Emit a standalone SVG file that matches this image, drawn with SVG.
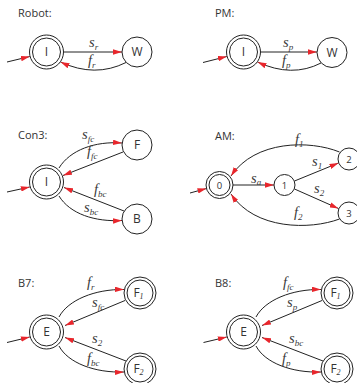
<svg xmlns="http://www.w3.org/2000/svg" width="357" height="383" viewBox="0 0 357 383">
  <defs>
    <marker id="arr" viewBox="0 0 10 6" refX="10" refY="3" markerWidth="9" markerHeight="5.4" markerUnits="userSpaceOnUse" orient="auto">
      <path d="M0,0 L10,3 L0,6 z" fill="#e8262c"/>
    </marker>
  </defs>
  <style>
    .title { font-family: "Open Sans", "Noto Sans", "Liberation Sans", sans-serif; font-size: 11px; fill: #333; }
    .node circle { fill: #fff; stroke: #222; stroke-width: 1; }
    .nl { font-family: "Open Sans", "Noto Sans", "Liberation Sans", sans-serif; font-size: 12px; fill: #333; text-anchor: middle; }
    .nn { font-family: "Open Sans", "Noto Sans", "Liberation Sans", sans-serif; font-size: 9.5px; fill: #333; text-anchor: middle; }
    .sub { font-family: "Liberation Serif", serif; font-style: italic; font-size: 8px; }
    .edges path { fill: none; stroke: #222; stroke-width: 1; marker-end: url(#arr); }
    .lbl { font-family: "Liberation Serif", "DejaVu Serif", serif; font-style: italic; font-size: 14.5px; fill: #3a3a3a; }
    .lbl tspan { font-size: 9px; }
  </style>

  <!-- Robot -->
  <text class="title" x="18" y="17">Robot:</text>
  <g class="node" id="robot-I"><circle cx="46.5" cy="52" r="17"/><circle cx="46.5" cy="52" r="14"/><text class="nl" x="46.5" y="56.3">I</text></g>
  <g class="node" id="robot-W"><circle cx="137" cy="52" r="15"/><text class="nl" x="137" y="56.3">W</text></g>
  <g class="edges" id="robot-edges">
    <path d="M7,62 L29.8,56.5"/>
    <path d="M63.5,52 L122,52"/>
    <path d="M126,62.5 Q95,78 60.5,62"/>
  </g>
  <text class="lbl" x="89" y="47">s<tspan dy="2.5">r</tspan></text>
  <text class="lbl" x="88" y="65">f<tspan dy="2.5">r</tspan></text>

  <!-- PM -->
  <text class="title" x="215" y="17">PM:</text>
  <g class="node" id="pm-I"><circle cx="243.5" cy="52" r="17"/><circle cx="243.5" cy="52" r="14"/><text class="nl" x="243.5" y="56.3">I</text></g>
  <g class="node" id="pm-W"><circle cx="332" cy="52.5" r="15"/><text class="nl" x="332" y="56.8">W</text></g>
  <g class="edges" id="pm-edges">
    <path d="M203,62.5 L226.8,56.5"/>
    <path d="M260.5,52 L317,52"/>
    <path d="M321,63 Q292,78 257.5,62"/>
  </g>
  <text class="lbl" x="283" y="47">s<tspan dy="2.5">p</tspan></text>
  <text class="lbl" x="282" y="65">f<tspan dy="2.5">p</tspan></text>

  <!-- Con3 -->
  <text class="title" x="18" y="139">Con3:</text>
  <g class="node" id="con3-I"><circle cx="46.5" cy="182" r="17"/><circle cx="46.5" cy="182" r="14"/><text class="nl" x="46.5" y="186.3">I</text></g>
  <g class="node" id="con3-F"><circle cx="137" cy="145" r="15"/><text class="nl" x="137" y="149.3">F</text></g>
  <g class="node" id="con3-B"><circle cx="137" cy="219" r="15"/><text class="nl" x="137" y="223.3">B</text></g>
  <g class="edges" id="con3-edges">
    <path d="M7,192 L29.8,187"/>
    <path d="M59,168 C70,150 95,141 122,143"/>
    <path d="M123,152 L63,175.5"/>
    <path d="M124,211 L64,187.5"/>
    <path d="M59,196 C70,214 95,222 122,220.5"/>
  </g>
  <text class="lbl" x="82" y="139">s<tspan dy="2.5">fc</tspan></text>
  <text class="lbl" x="87" y="156">f<tspan dy="2.5">fc</tspan></text>
  <text class="lbl" x="94" y="194">f<tspan dy="2.5">bc</tspan></text>
  <text class="lbl" x="84" y="212">s<tspan dy="2.5">bc</tspan></text>

  <!-- AM -->
  <text class="title" x="215" y="140">AM:</text>
  <g class="node" id="am-0"><circle cx="219.5" cy="185" r="13.5"/><circle cx="219.5" cy="185" r="10.5"/><text class="nn" x="219.5" y="188.5">0</text></g>
  <g class="node" id="am-1"><circle cx="284.5" cy="185" r="10.5"/><text class="nn" x="284.5" y="188.5">1</text></g>
  <g class="node" id="am-2"><circle cx="349" cy="159" r="11"/><text class="nn" x="349" y="162.5">2</text></g>
  <g class="node" id="am-3"><circle cx="349" cy="213" r="11"/><text class="nn" x="349" y="216.5">3</text></g>
  <g class="edges" id="am-edges">
    <path d="M190,193 L206.5,188.5"/>
    <path d="M233,185 L274,185"/>
    <path d="M294.5,181 L338.5,163"/>
    <path d="M294.5,189 L338.5,208.5"/>
    <path d="M339.5,152 C310,140 255,140 231,176"/>
    <path d="M339.5,219 C310,230 255,230 231,194"/>
  </g>
  <text class="lbl" x="251" y="182.5">s<tspan dy="2.5">a</tspan></text>
  <text class="lbl" x="295" y="144">f<tspan dy="2.5">1</tspan></text>
  <text class="lbl" x="312" y="166">s<tspan dy="2.5">1</tspan></text>
  <text class="lbl" x="314" y="193">s<tspan dy="2.5">2</tspan></text>
  <text class="lbl" x="294" y="217">f<tspan dy="2.5">2</tspan></text>

  <!-- B7 -->
  <text class="title" x="18" y="287">B7:</text>
  <g class="node" id="b7-E"><circle cx="46.5" cy="332" r="17"/><circle cx="46.5" cy="332" r="14"/><text class="nl" x="46.5" y="336.3">E</text></g>
  <g class="node" id="b7-F1"><circle cx="140" cy="293" r="16"/><circle cx="140" cy="293" r="13"/><text class="nl" x="138.5" y="297.3">F<tspan class="sub" dy="2">1</tspan></text></g>
  <g class="node" id="b7-F2"><circle cx="140" cy="369" r="16"/><circle cx="140" cy="369" r="13"/><text class="nl" x="138.5" y="373.3">F<tspan class="sub" dy="2">2</tspan></text></g>
  <g class="edges" id="b7-edges">
    <path d="M7,342.5 L29.8,337"/>
    <path d="M59,317 C68,300 95,289 124,289.5"/>
    <path d="M125,300.5 L65,325.5"/>
    <path d="M126,361 L65,337.5"/>
    <path d="M59,346 C68,363 95,373 124,372"/>
  </g>
  <text class="lbl" x="87" y="287">f<tspan dy="2.5">r</tspan></text>
  <text class="lbl" x="92" y="307">s<tspan dy="2.5">fc</tspan></text>
  <text class="lbl" x="92" y="343">s<tspan dy="2.5">2</tspan></text>
  <text class="lbl" x="87" y="363">f<tspan dy="2.5">bc</tspan></text>

  <!-- B8 -->
  <text class="title" x="215" y="287">B8:</text>
  <g class="node" id="b8-E"><circle cx="243.5" cy="332" r="17"/><circle cx="243.5" cy="332" r="14"/><text class="nl" x="243.5" y="336.3">E</text></g>
  <g class="node" id="b8-F1"><circle cx="337" cy="293" r="16"/><circle cx="337" cy="293" r="13"/><text class="nl" x="335.5" y="297.3">F<tspan class="sub" dy="2">1</tspan></text></g>
  <g class="node" id="b8-F2"><circle cx="337" cy="369" r="16"/><circle cx="337" cy="369" r="13"/><text class="nl" x="335.5" y="373.3">F<tspan class="sub" dy="2">2</tspan></text></g>
  <g class="edges" id="b8-edges">
    <path d="M203.5,342.5 L226.8,337"/>
    <path d="M256,317 C265,300 292,289 321,289.5"/>
    <path d="M322,300.5 L262,325.5"/>
    <path d="M323,361 L262,337.5"/>
    <path d="M256,346 C265,363 292,373 321,372"/>
  </g>
  <text class="lbl" x="283" y="287">f<tspan dy="2.5">fc</tspan></text>
  <text class="lbl" x="287" y="307">s<tspan dy="2.5">p</tspan></text>
  <text class="lbl" x="289" y="343">s<tspan dy="2.5">bc</tspan></text>
  <text class="lbl" x="282" y="363">f<tspan dy="2.5">p</tspan></text>
</svg>
